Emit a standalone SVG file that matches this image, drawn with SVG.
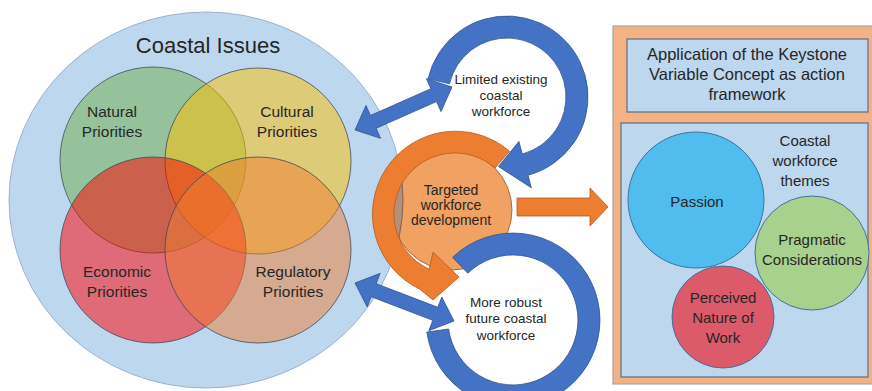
<svg xmlns="http://www.w3.org/2000/svg" width="872" height="391" viewBox="0 0 872 391">
<style>
text{font-family:"Liberation Sans","Open Sans",Arial,sans-serif;fill:#262626;text-anchor:middle}
.venn{fill-opacity:0.5;stroke:#3b4656;stroke-width:1;stroke-opacity:0.75}
.vl{font-size:15.5px}
.rt{font-size:13.5px}
.pt{font-size:15px}
.blue{fill:#4472c4;stroke:#2f528f;stroke-width:0.8}
.orng{fill:#ed7d31;stroke:#ae5a21;stroke-width:0.8}
.box{fill:#bdd7ee;stroke:#5d6f84;stroke-width:1.2}
.th{stroke:#41719c;stroke-width:1}
</style>
<defs>
<clipPath id="occ"><circle cx="452" cy="210" r="60"/></clipPath>
</defs>
<rect width="872" height="391" fill="#ffffff"/>

<g id="coastal-issues">
<ellipse cx="206" cy="200" rx="197" ry="188" fill="#bdd7ee" stroke="#9db3cc" stroke-width="1"/>
<text x="208" y="53" style="font-size:22px">Coastal Issues</text>
</g>
<g id="natural-priorities">
<circle class="venn" cx="153" cy="160" r="93" fill="#70ad47"/>
</g>
<g id="cultural-priorities">
<circle class="venn" cx="258" cy="161" r="93" fill="#ffc000"/>
</g>
<g id="economic-priorities">
<circle class="venn" cx="153" cy="250" r="93" fill="#ff0000"/>
</g>
<g id="regulatory-priorities">
<circle class="venn" cx="258" cy="250" r="93" fill="#ed7d31"/>
</g>
<g id="venn-labels">
<text class="vl" x="112" y="117">Natural</text>
<text class="vl" x="112" y="137">Priorities</text>
<text class="vl" x="287" y="117">Cultural</text>
<text class="vl" x="287" y="137">Priorities</text>
<text class="vl" x="117" y="277">Economic</text>
<text class="vl" x="117" y="297">Priorities</text>
<text class="vl" x="293" y="277">Regulatory</text>
<text class="vl" x="293" y="297">Priorities</text>
</g>

<g id="targeted-workforce-development">
<circle cx="452" cy="210" r="60" fill="#f1a263" stroke="#8a5a30" stroke-width="0.8"/>
<ellipse cx="206" cy="200" rx="197" ry="188" fill="#b58f78" stroke="#6e5646" stroke-width="0.8" clip-path="url(#occ)"/>
<text x="451" y="195" style="font-size:14px">Targeted</text>
<text x="451" y="210" style="font-size:14px">workforce</text>
<text x="451" y="225" style="font-size:14px">development</text>
</g>

<g id="connectors">
<path class="orng" d="M509.5,151.2 A83,83 0 1 0 419.9,289.2 L433,300 L459,277 L433,252 L429.2,269.3 A61,61 0 1 1 495,168 Z"/>
<path class="blue" d="M428.07,78.78 A81,81 0 1 1 527.96,175.24 L531.33,187.8 L498.47,166.48 L518.9,141.43 L522.27,153.99 A59,59 0 1 0 449.51,83.73 Z"/>
<path class="blue" d="M452.6,257.4 A87,87 0 1 1 426.8,332.1 L448.6,329 A65,65 0 1 0 467.8,273.2 Z"/>
<polygon class="blue" points="355,130 380.57,138.35 376.12,128.3 436.56,101.5 441.01,111.55 452,87 426.43,78.65 430.88,88.7 370.44,115.5 365.99,105.45"/>
<polygon class="blue" points="355,283 367.22,306.97 371.16,296.71 432.82,320.37 428.88,330.63 454,321 441.78,297.03 437.84,307.29 376.18,283.63 380.12,273.37"/>
<polygon class="orng" points="517,198 590,198 590,188 608,207 590,226 590,216 517,216"/>
</g>

<g id="limited-existing-workforce">
<text class="rt" x="501" y="84">Limited existing</text>
<text class="rt" x="501" y="100">coastal</text>
<text class="rt" x="501" y="116">workforce</text>
</g>
<g id="more-robust-workforce">
<text class="rt" x="506" y="307">More robust</text>
<text class="rt" x="506" y="323">future coastal</text>
<text class="rt" x="506" y="340">workforce</text>
</g>

<g id="keystone-panel">
<rect x="613" y="26" width="270" height="358" fill="#f4b183" stroke="#a6a6a6" stroke-width="1.2"/>
</g>
<g id="keystone-title">
<rect class="box" x="627" y="39" width="241" height="73"/>
<text x="747" y="60" style="font-size:16.5px">Application of the Keystone</text>
<text x="747" y="80" style="font-size:16.5px">Variable Concept as action</text>
<text x="747" y="100" style="font-size:16.5px">framework</text>
</g>
<g id="workforce-themes">
<rect class="box" x="621" y="123" width="247" height="254"/>
<text class="pt" x="805" y="146">Coastal</text>
<text class="pt" x="805" y="166">workforce</text>
<text class="pt" x="805" y="186">themes</text>
</g>
<g id="passion">
<circle class="th" cx="696" cy="200" r="68" fill="#50bdee"/>
<text class="pt" x="697" y="207">Passion</text>
</g>
<g id="pragmatic-considerations">
<circle class="th" cx="812" cy="253" r="57" fill="#a9d18e"/>
<text class="pt" x="812" y="245">Pragmatic</text>
<text class="pt" x="812" y="265">Considerations</text>
</g>
<g id="perceived-nature-of-work">
<circle class="th" cx="723" cy="317" r="51" fill="#dc5a69"/>
<text class="pt" x="723" y="303">Perceived</text>
<text class="pt" x="723" y="323">Nature of</text>
<text class="pt" x="723" y="343">Work</text>
</g>
</svg>
